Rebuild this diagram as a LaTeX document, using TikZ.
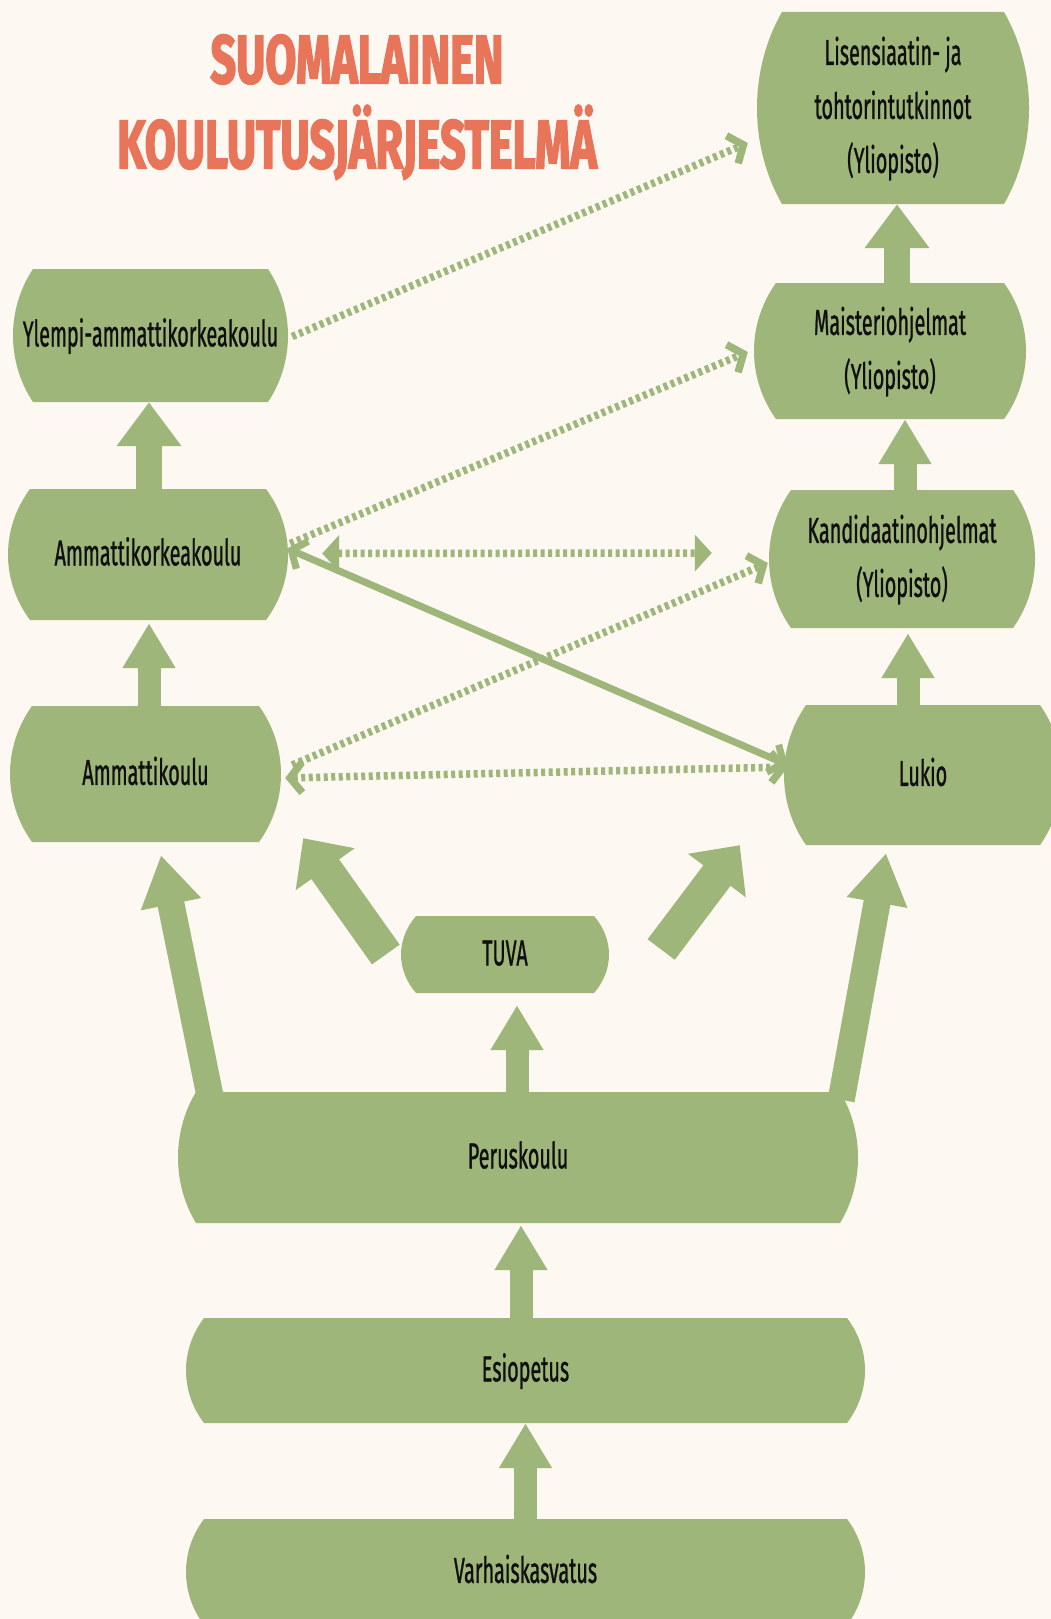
\documentclass[tikz,border=0pt]{standalone}
\usepackage{fontspec}
\setmainfont{Fira Sans}[FakeBold=1.3]
\newfontfamily\titlefont{Fira Sans}[BoldFeatures={FakeBold=3}]
\usetikzlibrary{arrows.meta,calc}
\definecolor{bg}{RGB}{253,248,242}
\definecolor{leaf}{RGB}{158,182,122}
\definecolor{coral}{RGB}{232,116,90}
\definecolor{ink}{RGB}{15,15,15}
\newcommand\pillfill[5]{%
  \fill[leaf] ({#1+#5},#2) -- ({#3-#5},#2)
    .. controls ({#3+#5/3},{#2+0.3*(#4-#2)}) and ({#3+#5/3},{#4-0.3*(#4-#2)}) .. ({#3-#5},#4)
    -- ({#1+#5},#4)
    .. controls ({#1-#5/3},{#4-0.3*(#4-#2)}) and ({#1-#5/3},{#2+0.3*(#4-#2)}) .. ({#1+#5},#2) -- cycle;}
\newcommand\boxtext[1]{\scalebox{0.55}[1]{\begin{tabular}{@{}c@{}}#1\end{tabular}}}
\tikzset{
  lbl/.style={inner sep=0pt, font=\fontsize{36}{54}\selectfont, text=ink},
  ttl/.style={inner sep=0pt, anchor=base, font=\titlefont\fontsize{68}{68}\selectfont\bfseries, text=coral},
  blk/.style={draw=leaf, line width=23pt, -{Triangle[width=50pt,length=45pt]}},
  blkbig/.style={draw=leaf, line width=26pt, -{Triangle[width=62pt,length=44pt]}},
  longarr/.style={draw=leaf, line width=27pt, -{Triangle[width=58pt,length=50pt]}},
  tuvaarr/.style={draw=leaf, line width=34pt, -{Triangle[width=70pt,length=38pt]}},
  hatch/.style={draw=leaf, line width=7.5pt, dash pattern=on 4pt off 3.5pt},
  chev/.style={-{Straight Barb[length=12pt,width=30pt]}},
  chevboth/.style={{Straight Barb[length=12pt,width=30pt]}-{Straight Barb[length=12pt,width=30pt]}},
  triboth/.style={{Triangle[width=36pt,length=17pt]}-{Triangle[width=36pt,length=17pt]}},
  solidline/.style={draw=leaf, line width=7pt},
}
\begin{document}
\begin{tikzpicture}[x=1pt,y=-1pt]
\fill[bg] (0,0) rectangle (1051,1619);
\useasboundingbox (0,0) rectangle (1051,1619);
\clip (0,0) rectangle (1051,1619);

% title
\node[ttl] (t1) at (357,83) {\scalebox{0.66}[1]{SUOMALAINEN}};
\node[ttl] (t2) at (357,168) {\scalebox{0.66}[1]{KOULUTUSJÄRJESTELMÄ}};

% box shapes
\pillfill{757}{12}{1029}{204}{25}
\pillfill{13}{269}{288}{402}{20}
\pillfill{754}{283}{1026}{419}{22}
\pillfill{8}{489}{288}{620}{22}
\pillfill{769}{490}{1035}{628}{22}
\pillfill{10}{706}{281}{842}{22}
\pillfill{784}{705}{1062}{845}{22}
\pillfill{401}{916}{609}{993}{15}
\pillfill{178}{1092}{858}{1223}{18}
\pillfill{186}{1318}{865}{1423}{18}
\pillfill{186}{1519}{865}{1625}{18}

% labels
\node[lbl, minimum width=272pt, minimum height=192pt] (lis) at (893,108) {\boxtext{Lisensiaatin- ja\\tohtorintutkinnot\\(Yliopisto)}};
\node[lbl, minimum width=275pt, minimum height=133pt] (ylempi) at (150.5,335.5) {\boxtext{Ylempi-ammattikorkeakoulu}};
\node[lbl, minimum width=272pt, minimum height=136pt] (maist) at (890,351) {\boxtext{Maisteriohjelmat\\(Yliopisto)}};
\node[lbl, minimum width=280pt, minimum height=131pt] (akk) at (148,554.5) {\boxtext{Ammattikorkeakoulu}};
\node[lbl, minimum width=266pt, minimum height=138pt] (kand) at (902,559) {\boxtext{Kandidaatinohjelmat\\(Yliopisto)}};
\node[lbl, minimum width=271pt, minimum height=136pt] (ak) at (145.5,774) {\boxtext{Ammattikoulu}};
\node[lbl, minimum width=278pt, minimum height=140pt] (lukio) at (923,775) {\boxtext{Lukio}};
\node[lbl, minimum width=208pt, minimum height=77pt] (tuva) at (505,954.5) {\boxtext{TUVA}};
\node[lbl, minimum width=680pt, minimum height=131pt] (pk) at (518,1157.5) {\boxtext{Peruskoulu}};
\node[lbl, minimum width=679pt, minimum height=105pt] (esi) at (525.5,1370.5) {\boxtext{Esiopetus}};
\node[lbl, minimum width=679pt, minimum height=106pt] (varh) at (525.5,1572) {\boxtext{Varhaiskasvatus}};

% vertical block arrows
\draw[blkbig] ($(maist.north)+(7,0)$) -- ($(lis.south)+(4,0)$);
\draw[blkbig] ($(akk.north)+(1,0)$) -- ($(ylempi.south)+(-1.5,0)$);
\draw[blk] ($(ak.north)+(3.5,0)$) -- ($(akk.south)+(1,3)$);
\draw[blk] ($(kand.north)+(3,0)$) -- ($(maist.south)+(15,0)$);
\draw[blk] ($(lukio.north)+(-15,0)$) -- ($(kand.south)+(6,5)$);
\draw[blk] ($(pk.north)+(-1,0)$) -- ($(tuva.south)+(12,12)$);
\draw[blk] ($(esi.north)+(-4.5,0)$) -- ($(pk.south)+(3,2)$);
\draw[blk] (varh.north) -- (esi.south);

% long arrows from Peruskoulu
\draw[longarr] ($(pk.north west)+(33,8)$) -- ($(ak.south)+(15.5,13)$);
\draw[longarr] ($(pk.north east)+(-17,8)$) -- ($(lukio.south)+(-37,8)$);

% TUVA arrows
\draw[tuvaarr] ($(tuva.west)+(-15,0)$) -- ($(ak.south east)+(22,-4)$);
\draw[tuvaarr] ($(tuva.east)+(52,-5)$) -- ($(lukio.south west)+(-44,0)$);

% hatched connectors
\draw[hatch, chev] ($(ylempi.east)+(4,1)$) -- ($(lis.west)+(-9,35)$);
\draw[hatch, chev] ($(akk.east)+(2,-11)$) -- ($(maist.west)+(-6,1)$);
\draw[hatch, chev] ($(ak.east)+(11,-9)$) -- ($(kand.west)+(-1,4)$);
\draw[hatch, chevboth] ($(ak.east)+(4,4)$) -- ($(lukio.west)+(4,-8)$);
\draw[hatch, triboth] ($(akk.east)+(34,-1)$) -- ($(kand.west)+(-57,-6)$);
\draw[solidline, chevboth] ($(akk.east)+(-1,-6)$) -- ($(lukio.west)+(4,-10)$);
\end{tikzpicture}
\end{document}
